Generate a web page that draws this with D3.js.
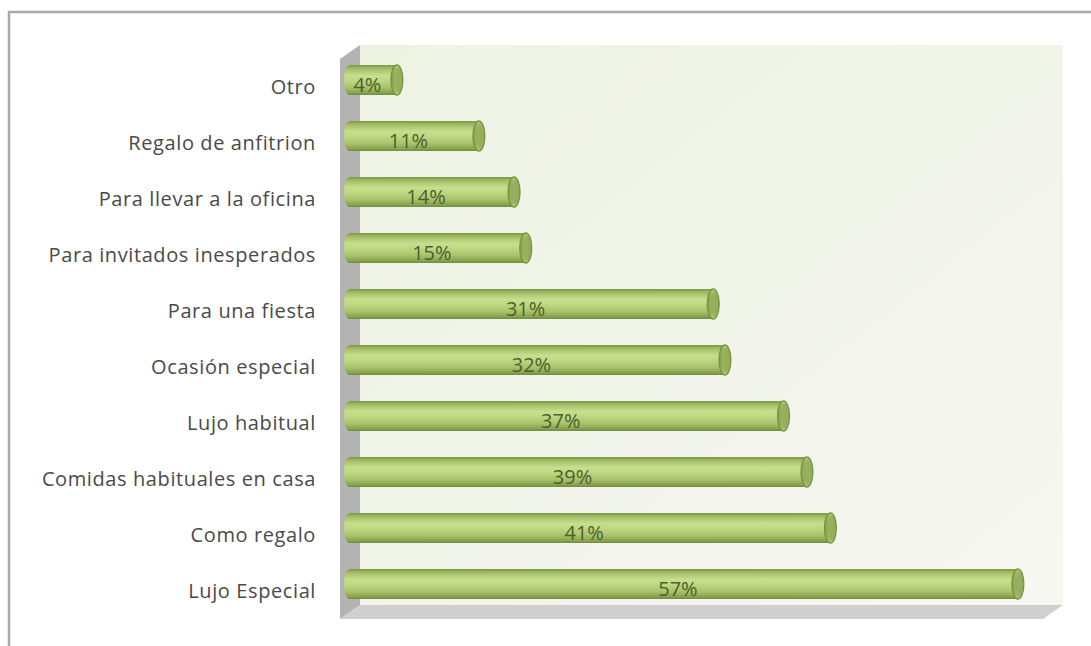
<!DOCTYPE html>
<html>
<head>
<meta charset="utf-8">
<script src="https://cdn.jsdelivr.net/npm/d3@7"></script>
<style>
  body { margin: 0; background: #fff; }
  svg { display: block; }
  .cat { font-family: "Open Sans", Lato, sans-serif; font-size: 20px; fill: #4a4a4a; letter-spacing: 0.6px; }
  .val { font-family: "Open Sans", Lato, sans-serif; font-size: 20px; fill: #4d5f2f; }
</style>
</head>
<body>
<div id="chart"></div>
<script>
///// Data

let categories = [
    "Otro",
    "Regalo de anfitrion",
    "Para llevar a la oficina",
    "Para invitados inesperados",
    "Para una fiesta",
    "Ocasión especial",
    "Lujo habitual",
    "Comidas habituales en casa",
    "Como regalo",
    "Lujo Especial"
];
let values = [4, 11, 14, 15, 31, 32, 37, 39, 41, 57];
let valueLabels = ["4%", "11%", "14%", "15%", "31%", "32%", "37%", "39%", "41%", "57%"];

///// Layout

let W = 1091, H = 646;
// back wall of the 3d plot
let back = { x0: 360, x1: 1063, y0: 45, y1: 605 };
// depth offset from back to front plane
let depth = { dx: -20, dy: 14 };

let svg = d3.select("#chart").append("svg")
    .attr("width", W)
    .attr("height", H);

let defs = svg.append("defs");

// bar gradient (cylinder shading)
let g1 = defs.append("linearGradient")
    .attr("id", "cyl").attr("x1", 0).attr("y1", 0).attr("x2", 0).attr("y2", 1);
[[0, "#7d9446"], [0.12, "#a2bc66"], [0.35, "#c6df8e"], [0.5, "#bfd982"],
 [0.75, "#a6c36a"], [0.92, "#88a24e"], [1, "#71883d"]].forEach(function(s) {
    g1.append("stop").attr("offset", s[0]).attr("stop-color", s[1]);
});

let g2 = defs.append("linearGradient")
    .attr("id", "cap").attr("x1", 0).attr("y1", 0).attr("x2", 1).attr("y2", 0);
[[0, "#7f9a48"], [0.5, "#a9c46e"], [1, "#8aa452"]].forEach(function(s) {
    g2.append("stop").attr("offset", s[0]).attr("stop-color", s[1]);
});

let g3 = defs.append("linearGradient")
    .attr("id", "wall").attr("x1", 0).attr("y1", 0).attr("x2", 1).attr("y2", 1);
[[0, "#eef2e3"], [1, "#f6f7f1"]].forEach(function(s) {
    g3.append("stop").attr("offset", s[0]).attr("stop-color", s[1]);
});

// outer frame
svg.append("path")
    .attr("d", "M9,646 L9,12 L1091,12")
    .attr("fill", "none")
    .attr("stroke", "#a9a9a9")
    .attr("stroke-width", 2.5);

// back wall
svg.append("rect")
    .attr("x", back.x0).attr("y", back.y0)
    .attr("width", back.x1 - back.x0).attr("height", back.y1 - back.y0)
    .attr("fill", "url(#wall)");

// left wall
svg.append("polygon")
    .attr("points", [
        [back.x0, back.y0], [back.x0, back.y1],
        [back.x0 + depth.dx, back.y1 + depth.dy], [back.x0 + depth.dx, back.y0 + depth.dy]
    ].join(" "))
    .attr("fill", "#b3b3b3");

// floor
svg.append("polygon")
    .attr("points", [
        [back.x0, back.y1], [back.x1, back.y1],
        [back.x1 + depth.dx, back.y1 + depth.dy], [back.x0 + depth.dx, back.y1 + depth.dy]
    ].join(" "))
    .attr("fill", "#cfcfcf");

///// Scales (bars sit on the middle depth plane)

let midX = back.x0 + depth.dx / 2;
let midY = back.y0 + depth.dy / 2;

let x = d3.scaleLinear()
    .domain([0, 60])
    .range([midX, back.x1 + depth.dx / 2]);

let y = d3.scaleBand()
    .domain(categories)
    .range([midY, back.y1 + depth.dy / 2])
    .paddingInner(0.46)
    .paddingOuter(0.23);

let barH = y.bandwidth();
let capRx = 6;

let bars = svg.selectAll(".bar")
    .data(categories)
    .enter().append("g")
    .attr("class", "bar");

// body of the cylinder
bars.append("path")
    .attr("d", function(d, i) {
        let x0 = x(0), x1 = x(values[i]);
        let t = y(d), b = y(d) + barH, r = barH / 2;
        return "M" + x1 + "," + t +
            " L" + x0 + "," + t +
            " A" + capRx + "," + r + " 0 0 0 " + x0 + "," + b +
            " L" + x1 + "," + b +
            " A" + capRx + "," + r + " 0 0 0 " + x1 + "," + t + "Z";
    })
    .attr("fill", "url(#cyl)");

// end cap
bars.append("ellipse")
    .attr("cx", function(d, i) { return x(values[i]); })
    .attr("cy", function(d) { return y(d) + barH / 2; })
    .attr("rx", capRx)
    .attr("ry", barH / 2)
    .attr("fill", "url(#cap)")
    .attr("stroke", "#7a9343")
    .attr("stroke-width", 1.2);

bars.append("ellipse")
    .attr("cx", function(d, i) { return x(values[i]) + 1; })
    .attr("cy", function(d) { return y(d) + barH / 2; })
    .attr("rx", capRx - 2.5)
    .attr("ry", barH / 2 - 3)
    .attr("fill", "#93ad5a")
    .attr("opacity", 0.8);

// value labels
bars.append("text")
    .attr("class", "val")
    .attr("x", function(d, i) { return (x(0) + x(values[i])) / 2 - 6; })
    .attr("y", function(d) { return y(d) + barH / 2 + 5; })
    .attr("dy", "0.35em")
    .attr("text-anchor", "middle")
    .text(function(d, i) { return valueLabels[i]; });

// category labels (front plane)
svg.selectAll(".cat")
    .data(categories)
    .enter().append("text")
    .attr("class", "cat")
    .attr("x", 316)
    .attr("y", function(d) { return y(d) + barH / 2 + depth.dy / 2; })
    .attr("dy", "0.35em")
    .attr("text-anchor", "end")
    .text(function(d) { return d; });
</script>
</body>
</html>
